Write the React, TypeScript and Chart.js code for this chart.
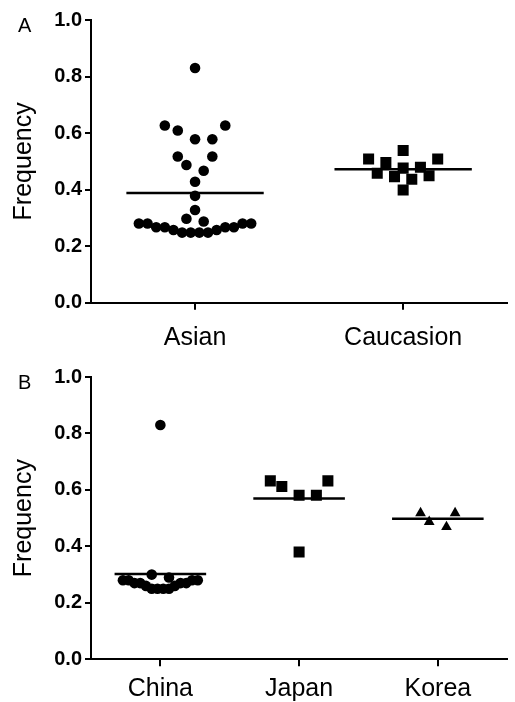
import React, { useEffect, useRef } from "react";
import { Chart, registerables } from "chart.js";

Chart.register(...registerables);

// ---------- data ----------
const yTickValues = [0, 0.2, 0.4, 0.6, 0.8, 1.0];
const yAxisTitle = "Frequency";

const panelACategories = ["Asian", "Caucasion"];
const asianValues = [
  0.83, 0.627, 0.627, 0.609, 0.578, 0.578, 0.517, 0.517, 0.487, 0.467, 0.428, 0.378, 0.328,
  0.297, 0.287, 0.28, 0.28, 0.28, 0.28, 0.267, 0.267, 0.267, 0.267, 0.257, 0.257, 0.248, 0.248,
  0.248, 0.248,
];
const caucasionValues = [0.538, 0.508, 0.508, 0.496, 0.479, 0.476, 0.458, 0.449, 0.446, 0.437, 0.399];

const panelBCategories = ["China", "Japan", "Korea"];
const chinaValues = [
  0.83, 0.3, 0.29, 0.28, 0.28, 0.28, 0.28, 0.27, 0.27, 0.27, 0.27, 0.26, 0.26, 0.25, 0.25, 0.25,
  0.25,
];
const japanValues = [0.632, 0.632, 0.612, 0.581, 0.581, 0.38];
const koreaValues = [0.518, 0.518, 0.487, 0.469];

// ---------- styling ----------
const FONT = "'Liberation Sans', Arial, Helvetica, sans-serif";
const SLOT_UNITS = 0.0415; // horizontal slot width in category units
const SPARSE_GAP_PX = 17;
const ROW_BIN = 0.035;

type Group = { values: number[]; style: string; radius: number; gap: number };

function mean(a: number[]) {
  return a.reduce((s, v) => s + v, 0) / a.length;
}

// beeswarm-like row layout; returns x offsets in category units
function swarmOffsets(values: number[], yPx: (v: number) => number, pxPerUnit: number, minDist: number): number[] {
  const order = values.map((_, i) => i).sort((a, b) => values[a] - values[b]);
  const placed: { x: number; y: number }[] = [];
  const offsets = new Array(values.length).fill(0);
  const slotPx = SLOT_UNITS * pxPerUnit;
  let i = 0;
  while (i < order.length) {
    const start = values[order[i]];
    let j = i;
    while (j < order.length && values[order[j]] - start < ROW_BIN) j++;
    const row = order.slice(i, j);
    const n = row.length;
    const dense = n >= 8;
    let k = dense ? 1 : Math.max(1, Math.round(SPARSE_GAP_PX / slotPx));
    let pos: { x: number; y: number }[] = [];
    for (let iter = 0; iter < 40; iter++, k++) {
      pos = row.map((idx, r) => {
        let m: number;
        if (n % 2 === 1) {
          m = r === 0 ? 0 : Math.ceil(r / 2) * (r % 2 === 1 ? 1 : -1);
        } else {
          m = (Math.floor(r / 2) + 0.5) * (r % 2 === 0 ? 1 : -1);
        }
        return { x: m * k * slotPx, y: yPx(values[idx]) };
      });
      let ok = true;
      for (let a = 0; a < pos.length && ok; a++) {
        for (const p of placed) {
          if (Math.hypot(pos[a].x - p.x, pos[a].y - p.y) < minDist) { ok = false; break; }
        }
        if (!dense) {
          for (let b = a + 1; b < pos.length; b++) {
            if (Math.hypot(pos[a].x - pos[b].x, pos[a].y - pos[b].y) < minDist) { ok = false; break; }
          }
        }
      }
      if (ok) break;
    }
    row.forEach((idx, r) => {
      offsets[idx] = pos[r].x / pxPerUnit;
      placed.push(pos[r]);
    });
    i = j;
  }
  return offsets;
}

type PanelProps = {
  categories: string[];
  groups: Group[];
  top: number;
  height: number;
  padTop: number;
  xAxisHeight: number;
  labelPad: number;
};

function Panel({ categories, groups, top, height, padTop, xAxisHeight, labelPad }: PanelProps) {
  const ref = useRef<HTMLCanvasElement | null>(null);
  useEffect(() => {
    if (!ref.current) return;
    const pointSets = groups.map((g, gi) => ({
      type: "scatter" as const,
      data: g.values.map((v) => ({ x: gi, y: v })),
      pointStyle: g.style,
      pointRadius: g.radius,
      pointBackgroundColor: "#000",
      pointBorderWidth: 0,
      showLine: false,
      order: 2,
    }));
    const meanSets = groups.map((g, gi) => {
      const m = mean(g.values);
      return {
        type: "line" as const,
        data: [
          { x: gi - 0.33, y: m },
          { x: gi + 0.33, y: m },
        ],
        borderColor: "#000",
        borderWidth: 2.5,
        pointRadius: 0,
        fill: false,
        order: 1,
      };
    });
    const chart = new Chart(ref.current, {
      type: "scatter",
      data: { datasets: [...pointSets, ...meanSets] as any },
      options: {
        animation: false,
        responsive: false,
        maintainAspectRatio: false,
        events: [],
        layout: { padding: { top: padTop, left: 0, right: 0, bottom: 0 } },
        plugins: { legend: { display: false }, tooltip: { enabled: false } },
        scales: {
          x: {
            type: "linear",
            min: -0.5,
            max: categories.length - 0.5,
            afterBuildTicks: (s: any) => {
              s.ticks = categories.map((_, i) => ({ value: i }));
            },
            afterFit: (s: any) => {
              s.height = xAxisHeight;
            },
            ticks: {
              callback: (v: any) => categories[Math.round(Number(v))] ?? "",
              font: { family: FONT, size: 25 },
              color: "#000",
              padding: labelPad,
              autoSkip: false,
              maxRotation: 0,
              minRotation: 0,
            },
            grid: { drawOnChartArea: false, drawTicks: true, tickLength: 7, color: "#000", lineWidth: 2 },
            border: { display: true, color: "#000", width: 2 },
          },
          y: {
            type: "linear",
            min: 0,
            max: 1,
            afterBuildTicks: (s: any) => {
              s.ticks = yTickValues.map((v) => ({ value: v }));
            },
            afterFit: (s: any) => {
              s.width = 91;
            },
            ticks: {
              callback: (v: any) => Number(v).toFixed(1),
              font: { family: FONT, size: 20, weight: "bold" },
              color: "#000",
              padding: 3,
            },
            grid: { drawOnChartArea: false, drawTicks: true, tickLength: 6, color: "#000", lineWidth: 2 },
            border: { display: true, color: "#000", width: 2 },
            title: {
              display: true,
              text: yAxisTitle,
              font: { family: FONT, size: 25 },
              color: "#000",
              padding: { top: 9, bottom: 0 },
            },
          },
        },
      } as any,
    });
    const xs: any = chart.scales.x;
    const ys: any = chart.scales.y;
    const pxPerUnit = xs.getPixelForValue(1) - xs.getPixelForValue(0);
    groups.forEach((g, gi) => {
      const offs = swarmOffsets(g.values, (v) => ys.getPixelForValue(v), pxPerUnit, g.gap);
      (chart.data.datasets[gi] as any).data = g.values.map((v, i) => ({ x: gi + offs[i], y: v }));
    });
    chart.update();
    return () => chart.destroy();
  }, []);
  return (
    <canvas
      ref={ref}
      width={515}
      height={height}
      style={{ position: "absolute", left: 0, top, width: 515, height }}
    />
  );
}

const letterStyle: React.CSSProperties = {
  position: "absolute",
  left: 18,
  fontFamily: FONT,
  fontSize: 20,
  lineHeight: "20px",
  color: "#000",
};

export default function App() {
  return (
    <div style={{ position: "absolute", left: 0, top: 0, width: 515, height: 702, overflow: "hidden", background: "#fff" }}>
      <Panel
        categories={panelACategories}
        groups={[
          { values: asianValues, style: "circle", radius: 5.3, gap: 10.5 },
          { values: caucasionValues, style: "rect", radius: 7.8, gap: 10.5 },
        ]}
        top={0}
        height={360}
        padTop={20}
        xAxisHeight={57.3}
        labelPad={13}
      />
      <Panel
        categories={panelBCategories}
        groups={[
          { values: chinaValues, style: "circle", radius: 5.3, gap: 8.5 },
          { values: japanValues, style: "rect", radius: 7.8, gap: 10.5 },
          { values: koreaValues, style: "triangle", radius: 6.2, gap: 10.5 },
        ]}
        top={360}
        height={342}
        padTop={17}
        xAxisHeight={42.7}
        labelPad={8}
      />
      <div style={{ ...letterStyle, top: 15 }}>A</div>
      <div style={{ ...letterStyle, top: 372 }}>B</div>
    </div>
  );
}
